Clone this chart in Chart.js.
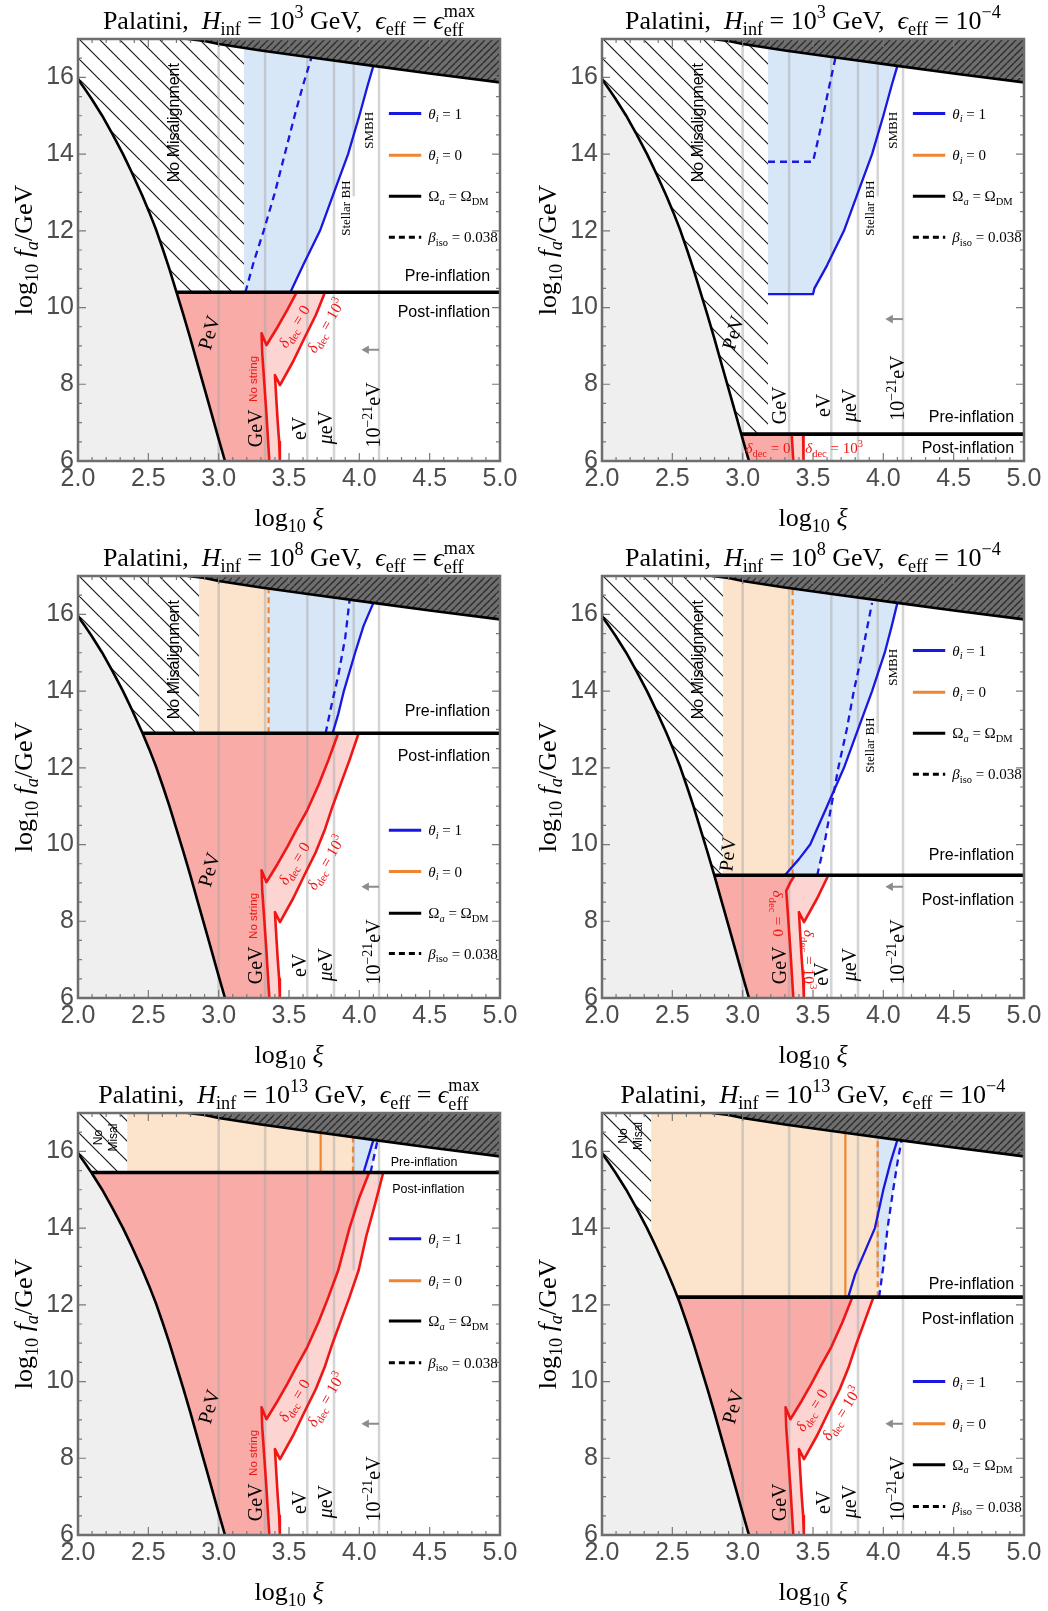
<!DOCTYPE html>
<html>
<head>
<meta charset="utf-8">
<script src="https://cdn.jsdelivr.net/npm/chart.js@4.4.1/dist/chart.umd.min.js"></script>
<style>
html,body{margin:0;padding:0;background:#ffffff;}
#wrap{position:relative;width:1048px;height:1611px;overflow:hidden;background:#fff;}
#wrap canvas{position:absolute;}
</style>
</head>
<body>
<div id="wrap"></div>
<script>
/* ===================== DATA  (x = log10 xi , y = log10 fa/GeV) ===================== */
const X_MIN = 2, X_MAX = 5, Y_MIN = 6, Y_MAX = 17;
const X_TICK_STEP = 0.5, Y_TICK_STEP = 2;

const TITLE_H_EXP   = ['3', '3', '8', '8', '13', '13'];
const TITLE_EPS_MAX = [true, false, true, false, true, false];

// Omega_a = Omega_DM boundary (left black curve), top-down
const OMEGA_BOUNDARY = [[2.000,15.95],[2.048,15.7],[2.095,15.45],[2.172,15.0],[2.248,14.5],[2.320,14.0],[2.350,13.77],[2.385,13.5],[2.447,13.0],[2.459,12.9],[2.505,12.5],[2.537,12.2],[2.558,12.0],[2.605,11.5],[2.650,11.0],[2.700,10.4],[2.750,9.8],[2.798,9.2],[2.852,8.5],[2.906,7.8],[2.952,7.2],[2.990,6.7],[3.045,6.0]];
// upper excluded (dark hatched) region boundary
const TOP_BOUNDARY = [[2.78,17.0],[2.9,16.95],[3.0,16.87],[3.3,16.7],[3.66,16.52],[4.1,16.3],[4.5,16.1],[5.0,15.87]];
// delta_dec = 0 and delta_dec = 10^3 curves, top-down
const DDEC0 = [[4.07,15.45],[4.0,14.8],[3.93,14.0],[3.85,12.9],[3.78,12.2],[3.71,11.55],[3.63,10.9],[3.555,10.4],[3.49,9.95],[3.42,9.5],[3.37,9.2],[3.34,9.02],[3.305,9.33],[3.31,8.8],[3.325,8.0],[3.34,7.2],[3.35,6.6],[3.36,6.0]];
const DDEC3 = [[4.17,15.45],[4.11,14.6],[4.05,13.8],[3.995,12.9],[3.93,12.2],[3.87,11.6],[3.81,11.0],[3.756,10.4],[3.69,9.8],[3.609,9.2],[3.53,8.6],[3.436,7.98],[3.40,8.24],[3.41,7.6],[3.42,7.0],[3.43,6.5],[3.435,6.0]];
// mass reference lines (PeV, GeV, eV, μeV, 1e-21 eV) and stellar BH line
const MASS_LINE_X = [3.0, 3.33, 3.63, 3.82, 4.14];
const STELLAR_LINE = [[3.96,12.9],[3.96,17.0]];

// per panel values
const POST_LEVEL   = [10.4, 6.7, 12.9, 9.2, 15.45, 12.2];
const OMEGA_CROSS  = [2.700, 2.990, 2.459, 2.798, 2.095, 2.537];
const DDEC0_CROSS  = [3.555, 3.35, 3.85, 3.37, 4.07, 3.78];
const DDEC3_CROSS  = [3.756, 3.43, 3.995, 3.609, 4.17, 3.93];
const NOMIS_RIGHT  = [3.18, 3.18, 2.86, 2.86, 2.35, 2.35];
const NOMIS_BOTTOM = [10.4, 6.7, 12.9, 9.2, 15.45, 13.77];
const ORANGE_BAND  = [null, null, [2.86,3.355], [2.86,3.355], [2.35,3.955], [2.35,3.96]];
const ORANGE_DASH_X  = [null, null, 3.355, 3.355, 3.955, 3.96];
const ORANGE_SOLID_X = [null, null, null, null, 3.725, 3.73];
const BLUE_LEFT    = [3.18, 3.18, 3.355, 3.355, 3.955, 3.96];
const BLUE_BOTTOM  = [10.4, 10.35, 12.9, 9.2, 15.45, 12.2];

const BLUE_SOLID_1 = [[3.51,10.4],[3.6,11.1],[3.72,12.0],[3.82,13.0],[3.92,14.0],[4.0,15.0],[4.06,15.8],[4.1,16.3]];
const BLUE_SOLID_2 = [[3.18,10.35],[3.5,10.35],[3.51,10.5],[3.6,11.1],[3.72,12.0],[3.82,13.0],[3.92,14.0],[4.0,15.0],[4.06,15.8],[4.1,16.3]];
const BLUE_SOLID_3 = [[3.81,12.9],[3.85,13.4],[3.89,14.0],[3.97,15.0],[4.03,15.7],[4.1,16.3]];
const BLUE_SOLID_4 = [[3.30,9.2],[3.4,9.62],[3.48,10.0],[3.6,11.0],[3.72,12.0],[3.82,13.0],[3.92,14.0],[4.01,15.0],[4.06,15.7],[4.1,16.3]];
const BLUE_SOLID_5 = [[4.03,15.45],[4.1,16.3]];
const BLUE_SOLID_6 = [[3.75,12.2],[3.8,12.8],[3.87,13.4],[3.94,14.0],[4.0,15.0],[4.05,15.7],[4.1,16.3]];

const BLUE_DASH_1 = [[3.19,10.4],[3.25,11.2],[3.32,12.0],[3.40,13.0],[3.47,14.0],[3.54,15.0],[3.60,15.8],[3.66,16.52]];
const BLUE_DASH_2 = [[3.18,13.8],[3.5,13.8],[3.55,14.6],[3.60,15.5],[3.66,16.52]];
const BLUE_DASH_3 = [[3.76,12.9],[3.80,13.6],[3.85,14.4],[3.90,15.4],[3.93,16.35]];
const BLUE_DASH_4 = [[3.53,9.2],[3.58,10.0],[3.63,11.0],[3.68,12.0],[3.74,13.0],[3.79,14.0],[3.85,15.0],[3.92,16.3]];
const BLUE_DASH_5 = [[4.08,15.45],[4.13,16.3]];
const BLUE_DASH_6 = [[3.97,12.2],[4.0,13.0],[4.03,14.0],[4.07,15.0],[4.10,15.7],[4.13,16.3]];

const BLUE_EDGE_4 = [[3.53,9.2],[3.58,10.0],[3.63,11.0],[3.66,11.6],[3.72,12.0],[3.82,13.0],[3.92,14.0],[4.01,15.0],[4.06,15.7],[4.1,16.3]];

const BLUE_SOLID = [BLUE_SOLID_1, BLUE_SOLID_2, BLUE_SOLID_3, BLUE_SOLID_4, BLUE_SOLID_5, BLUE_SOLID_6];
const BLUE_DASH  = [BLUE_DASH_1, BLUE_DASH_2, BLUE_DASH_3, BLUE_DASH_4, BLUE_DASH_5, BLUE_DASH_6];
const BLUE_EDGE  = [BLUE_SOLID_1, BLUE_SOLID_2, BLUE_SOLID_3, BLUE_EDGE_4, BLUE_DASH_5, BLUE_DASH_6];

/* ===================== ANNOTATION PLACEMENT (data units) ===================== */
const MASS_POS_A = [[2.93,9.35],[3.26,6.85],[3.57,6.85],[3.76,6.87],[4.10,7.2]];
const MASS_POS_B = [[2.93,9.35],[3.26,7.45],[3.57,7.45],[3.76,7.45],[4.10,7.9]];
const MASS_POS_C = [[2.89,9.75],[3.26,6.85],[3.56,6.62],[3.76,6.87],[4.10,7.2]];
const MASS_POS = [MASS_POS_A, MASS_POS_B, MASS_POS_A, MASS_POS_C, MASS_POS_A, MASS_POS_A];
const LEGEND_Y = [[15.06,13.97,12.9,11.83],[15.06,13.97,12.9,11.83],[10.375,9.3,8.21,7.16],[15.06,13.97,12.9,11.83],[13.72,12.63,11.58,10.49],[10.0,8.9,7.83,6.74]];
const PRE_LABEL_Y  = [10.84, 7.16, 13.5, 9.75, 15.73, 12.56];
const POST_LABEL_Y = [9.9, 6.36, 12.31, 8.56, 15.03, 11.65];
const ARROW_Y = [8.9, 9.7, 8.9, 8.9, 8.9, 8.9];
const DDEC0_LABEL = [[3.536,9.51,-59],[3.18,6.34,0],[3.536,9.51,-59],[3.25,8.2,90],[3.536,9.51,-59],[3.49,9.26,-58]];
const DDEC3_LABEL = [[3.76,9.53,-60],[3.65,6.34,0],[3.76,9.53,-60],[3.47,7.0,90],[3.76,9.53,-60],[3.70,9.17,-58]];

/* ===================== STYLE ===================== */
const SERIF = '"Liberation Serif", "DejaVu Serif", serif';
const SANS = '"Liberation Sans", Arial, sans-serif';
const GRAY_FILL = '#efefef';
const RED_FILL = 'rgb(249,171,167)';
const PINK_FILL = 'rgb(252,213,211)';
const BLUE_FILL = 'rgb(216,231,248)';
const ORANGE_FILL = 'rgb(251,228,203)';
const RED_LINE = '#f01616';
const BLUE_LINE = '#1818e0';
const ORANGE_LINE = '#ef8531';
const VLINE = 'rgba(170,170,170,0.5)';

const PANEL_W = 524, PANEL_H = 537;

function mkPattern(bg, fg, size, lw, dir) {
  const c = document.createElement('canvas');
  c.width = size; c.height = size;
  const g = c.getContext('2d');
  if (bg) { g.fillStyle = bg; g.fillRect(0, 0, size, size); }
  g.strokeStyle = fg; g.lineWidth = lw;
  for (const o of [-size, 0, size]) {
    g.beginPath();
    if (dir === '\\') { g.moveTo(o, 0); g.lineTo(o + size, size); }
    else { g.moveTo(o, size); g.lineTo(o + size, 0); }
    g.stroke();
  }
  return g.createPattern(c, 'repeat');
}
const HATCH_LIGHT = mkPattern('#ffffff', '#1a1a1a', 20, 1.2, '\\');
const HATCH_DARK = mkPattern('#6e6e6e', '#2b2b2b', 7, 1.3, '/');

/* ---------- rich text ---------- */
function segFont(st, size, fam) {
  const small = (st === 'b' || st === 'bi' || st === 'p' || st === 'ss');
  const it = (st === 'i' || st === 'bi') ? 'italic ' : '';
  return it + (small ? size * 0.7 : size) + 'px ' + fam;
}
function segWidth(ctx, seg, size, fam) {
  const t = seg[0], st = seg[1];
  ctx.font = segFont(st, size, fam);
  if (st === 'ss') return Math.max(ctx.measureText(t[0]).width, ctx.measureText(t[1]).width);
  return ctx.measureText(t).width;
}
function drawRich(ctx, segs, x, y, o) {
  const size = o.size, fam = o.family || SERIF;
  ctx.save();
  ctx.translate(x, y);
  if (o.rot) ctx.rotate(o.rot * Math.PI / 180);
  let w = 0;
  for (const s of segs) w += segWidth(ctx, s, size, fam);
  let cx = o.align === 'left' ? 0 : (o.align === 'right' ? -w : -w / 2);
  const base = size * 0.34;
  ctx.fillStyle = o.color || '#000';
  ctx.textAlign = 'left';
  ctx.textBaseline = 'alphabetic';
  for (const s of segs) {
    const t = s[0], st = s[1];
    const sw = segWidth(ctx, s, size, fam);
    if (st === 'ss') {
      ctx.fillText(t[0], cx, base + size * 0.26);
      ctx.fillText(t[1], cx, base - size * 0.44);
    } else {
      const dy = (st === 'b' || st === 'bi') ? size * 0.24 : (st === 'p' ? -size * 0.42 : 0);
      ctx.fillText(t, cx, base + dy);
    }
    cx += sw;
  }
  ctx.restore();
}

const MASS_SEGS = [[['PeV','r']],[['GeV','r']],[['eV','r']],[['μ','i'],['eV','r']],[['10','r'],['−21','p'],['eV','r']]];
const LEGEND_SEGS = [
  [['θ','i'],['i','bi'],[' = 1','r']],
  [['θ','i'],['i','bi'],[' = 0','r']],
  [['Ω','r'],['a','bi'],[' = Ω','r'],['DM','b']],
  [['β','i'],['iso','b'],[' = 0.038','r']]
];

function titleSegs(i) {
  const s = [['Palatini,  ','r'],['H','i'],['inf','b'],[' = 10','r'],[TITLE_H_EXP[i],'p'],[' GeV,  ','r'],['ϵ','i'],['eff','b'],[' = ','r']];
  if (TITLE_EPS_MAX[i]) { s.push(['ϵ','i']); s.push([['eff','max'],'ss']); }
  else { s.push(['10','r']); s.push(['−4','p']); }
  return s;
}

const annotPlugin = {
  id: 'annot',
  afterDatasetsDraw(chart, args, opts) {
    const i = opts.panel;
    const ctx = chart.ctx;
    const X = v => chart.scales.x.getPixelForValue(v);
    const Y = v => chart.scales.y.getPixelForValue(v);
    MASS_SEGS.forEach((segs, k) => {
      const p = MASS_POS[i][k];
      const rot = k === 0 ? (i === 3 ? -84 : -74) : -90;
      drawRich(ctx, segs, X(p[0]), Y(p[1]), {size: 20, rot});
    });
    if (i < 4) {
      drawRich(ctx, [['No Misalignment','r']], X(2.677), Y(14.82), {size: 16, family: SANS, rot: -90});
    } else {
      const cu = i === 4 ? 2.19 : 2.2, cv = i === 4 ? 16.36 : 16.4;
      drawRich(ctx, [['No','r']], X(cu) - 7, Y(cv), {size: 12, family: SANS, rot: -90});
      drawRich(ctx, [['Misal','r']], X(cu) + 8, Y(cv), {size: 12, family: SANS, rot: -90});
    }
    if (i === 0 || i === 1 || i === 3) {
      drawRich(ctx, [['Stellar BH','r']], X(3.90), Y(12.59), {size: 13, rot: -90});
      drawRich(ctx, [['SMBH','r']], X(4.066), Y(14.62), {size: 13, rot: -90});
    }
    if (i === 0 || i === 2 || i === 4) {
      drawRich(ctx, [['No string','r']], X(3.247), Y(8.14), {size: 11.5, family: SANS, rot: -90, color: RED_LINE});
    }
    const d0 = DDEC0_LABEL[i], d3 = DDEC3_LABEL[i];
    const dsz = i === 1 ? 15 : 15.5;
    drawRich(ctx, [['δ','i'],['dec','b'],[' = 0','r']], X(d0[0]), Y(d0[1]), {size: dsz, rot: d0[2], color: RED_LINE});
    drawRich(ctx, [['δ','i'],['dec','b'],[' = 10','r'],['3','p']], X(d3[0]), Y(d3[1]), {size: dsz, rot: d3[2], color: RED_LINE});
    if (i === 4) {
      drawRich(ctx, [['Pre-inflation','r']], X(4.46), Y(PRE_LABEL_Y[i]), {size: 12.5, family: SANS});
      drawRich(ctx, [['Post-inflation','r']], X(4.49), Y(POST_LABEL_Y[i]), {size: 12.5, family: SANS});
    } else {
      drawRich(ctx, [['Pre-inflation','r']], X(4.93), Y(PRE_LABEL_Y[i]), {size: 16, family: SANS, align: 'right'});
      drawRich(ctx, [['Post-inflation','r']], X(4.93), Y(POST_LABEL_Y[i]), {size: 16, family: SANS, align: 'right'});
    }
    LEGEND_SEGS.forEach((segs, k) => {
      drawRich(ctx, segs, X(4.49), Y(LEGEND_Y[i][k]), {size: 15, align: 'left'});
    });
  },
  afterDraw(chart, args, opts) {
    const i = opts.panel;
    const ctx = chart.ctx;
    const a = chart.chartArea;
    const X = v => chart.scales.x.getPixelForValue(v);
    const Y = v => chart.scales.y.getPixelForValue(v);
    ctx.save();
    ctx.strokeStyle = '#7a7a7a';
    ctx.lineWidth = 1.2;
    for (let k = 0; k <= 30; k++) {
      const v = X_MIN + k * 0.1;
      const L = (k % 5 === 0) ? 8 : 4;
      const x = X(v);
      ctx.beginPath();
      ctx.moveTo(x, a.bottom); ctx.lineTo(x, a.bottom - L);
      ctx.moveTo(x, a.top); ctx.lineTo(x, a.top + L);
      ctx.stroke();
    }
    for (let k = 0; k <= 22; k++) {
      const v = Y_MIN + k * 0.5;
      const L = (k % 4 === 0) ? 8 : 4;
      const y = Y(v);
      ctx.beginPath();
      ctx.moveTo(a.left, y); ctx.lineTo(a.left + L, y);
      ctx.moveTo(a.right, y); ctx.lineTo(a.right - L, y);
      ctx.stroke();
    }
    ctx.strokeStyle = '#6e6e6e';
    ctx.lineWidth = 2.5;
    ctx.strokeRect(a.left, a.top, a.right - a.left, a.bottom - a.top);
    ctx.restore();
    const cx = (a.left + a.right) / 2;
    drawRich(ctx, titleSegs(i), cx, 20, {size: 26});
    drawRich(ctx, [['log','r'],['10','b'],[' ','r'],['ξ','i']], cx, 517, {size: 26});
    drawRich(ctx, [['log','r'],['10','b'],[' ','r'],['f','i'],['a','bi'],['/GeV','r']], 23, (a.top + a.bottom) / 2, {size: 26, rot: -90});
  }
};

function P(arr) { return arr.map(p => ({x: p[0], y: p[1]})); }

function buildPanel(i) {
  const post = POST_LEVEL[i];
  const ds = [];
  const add = (arr, o) => ds.push(Object.assign({
    data: P(arr), pointRadius: 0, pointHoverRadius: 0, tension: 0, fill: false,
    borderWidth: 0, borderColor: 'rgba(0,0,0,0)', backgroundColor: 'rgba(0,0,0,0)'
  }, o));
  const area = (arr, color) => add(arr, {fill: 'shape', backgroundColor: color});
  const line = (arr, color, w, dash) => add(arr, {borderColor: color, borderWidth: w, borderDash: dash || [], borderCapStyle: 'butt', borderJoinStyle: 'round'});

  const omegaBelow = OMEGA_BOUNDARY.filter(p => p[1] < post - 1e-6);
  const d0 = [[DDEC0_CROSS[i], post]].concat(DDEC0.filter(p => p[1] < post - 1e-6));
  const d3 = [[DDEC3_CROSS[i], post]].concat(DDEC3.filter(p => p[1] < post - 1e-6));
  const hb = NOMIS_BOTTOM[i], hr = NOMIS_RIGHT[i];
  const omegaEnd = OMEGA_BOUNDARY[OMEGA_BOUNDARY.length - 1];

  area([[X_MIN, Y_MIN]].concat(OMEGA_BOUNDARY, [[omegaEnd[0], Y_MIN]]), GRAY_FILL);
  area([[X_MIN, Y_MAX]].concat(OMEGA_BOUNDARY.filter(p => p[1] >= hb - 1e-6), [[hr, hb], [hr, Y_MAX]]), HATCH_LIGHT);
  if (ORANGE_BAND[i]) {
    const L = ORANGE_BAND[i][0], R = ORANGE_BAND[i][1];
    area([[L, Y_MAX], [L, hb]].concat(OMEGA_BOUNDARY.filter(p => p[1] < hb - 1e-6 && p[1] >= post - 1e-6), [[R, post], [R, Y_MAX]]), ORANGE_FILL);
  }
  const be = BLUE_EDGE[i];
  area([[BLUE_LEFT[i], Y_MAX], [BLUE_LEFT[i], BLUE_BOTTOM[i]]].concat(be, [[be[be.length - 1][0], Y_MAX]]), BLUE_FILL);
  area([[OMEGA_CROSS[i], post]].concat(d0, omegaBelow.slice().reverse()), RED_FILL);
  area(d3.concat(d0.slice().reverse()), PINK_FILL);
  MASS_LINE_X.forEach(x => line([[x, Y_MIN], [x, Y_MAX]], VLINE, 2.5));
  line(STELLAR_LINE, VLINE, 2.5);
  if (ORANGE_SOLID_X[i]) line([[ORANGE_SOLID_X[i], post], [ORANGE_SOLID_X[i], Y_MAX]], ORANGE_LINE, 2.2);
  if (ORANGE_DASH_X[i]) line([[ORANGE_DASH_X[i], post], [ORANGE_DASH_X[i], Y_MAX]], ORANGE_LINE, 2.2, [6, 4]);
  line(BLUE_SOLID[i], BLUE_LINE, 2.3);
  line(BLUE_DASH[i], BLUE_LINE, 2.3, [7, 5]);
  line(d0, RED_LINE, 2.6);
  line(d3, RED_LINE, 2.6);
  line(OMEGA_BOUNDARY, '#000', 2.6);
  line([[OMEGA_CROSS[i], post], [X_MAX, post]], '#000', 3.6);
  area(TOP_BOUNDARY.concat([[X_MAX, Y_MAX]]), HATCH_DARK);
  line(TOP_BOUNDARY, '#000', 2.6);
  add([[4.14, ARROW_Y[i]], [4.05, ARROW_Y[i]]], {borderColor: '#8c8c8c', borderWidth: 2, pointRadius: [0, 5], pointStyle: 'triangle', pointRotation: -90, pointBackgroundColor: '#8c8c8c', pointBorderWidth: 0});
  const ly = LEGEND_Y[i];
  line([[4.21, ly[0]], [4.44, ly[0]]], BLUE_LINE, 3);
  line([[4.21, ly[1]], [4.44, ly[1]]], ORANGE_LINE, 3);
  line([[4.21, ly[2]], [4.44, ly[2]]], '#000', 3);
  line([[4.21, ly[3]], [4.44, ly[3]]], '#000', 3, [6, 4]);

  ds.forEach((d, k) => { d.order = -k; });

  const canvas = document.createElement('canvas');
  canvas.width = PANEL_W; canvas.height = PANEL_H;
  canvas.style.left = ((i % 2) * PANEL_W) + 'px';
  canvas.style.top = (Math.floor(i / 2) * PANEL_H) + 'px';
  canvas.style.width = PANEL_W + 'px';
  canvas.style.height = PANEL_H + 'px';
  document.getElementById('wrap').appendChild(canvas);

  new Chart(canvas, {
    type: 'line',
    data: {datasets: ds},
    options: {
      responsive: false, animation: false, devicePixelRatio: 1, events: [],
      layout: {padding: {left: 0, right: 24, top: 39, bottom: 0}},
      scales: {
        x: {
          type: 'linear', min: X_MIN, max: X_MAX,
          grid: {display: false, drawTicks: false}, border: {display: false},
          ticks: {stepSize: X_TICK_STEP, autoSkip: false, maxRotation: 0, minRotation: 0, padding: 3,
            callback: v => Number(v).toFixed(1), color: '#4d4d4d', font: {family: SANS, size: 25}},
          afterFit: s => { s.height = PANEL_H - 461; }
        },
        y: {
          type: 'linear', min: Y_MIN, max: Y_MAX,
          grid: {display: false, drawTicks: false}, border: {display: false},
          ticks: {stepSize: Y_TICK_STEP, includeBounds: false, padding: 4,
            callback: v => String(v), color: '#4d4d4d', font: {family: SANS, size: 25}},
          afterFit: s => { s.width = 78; }
        }
      },
      plugins: {legend: {display: false}, tooltip: {enabled: false}, title: {display: false}, annot: {panel: i}}
    },
    plugins: [annotPlugin]
  });
}

for (let i = 0; i < 6; i++) buildPanel(i);
</script>
</body>
</html>
